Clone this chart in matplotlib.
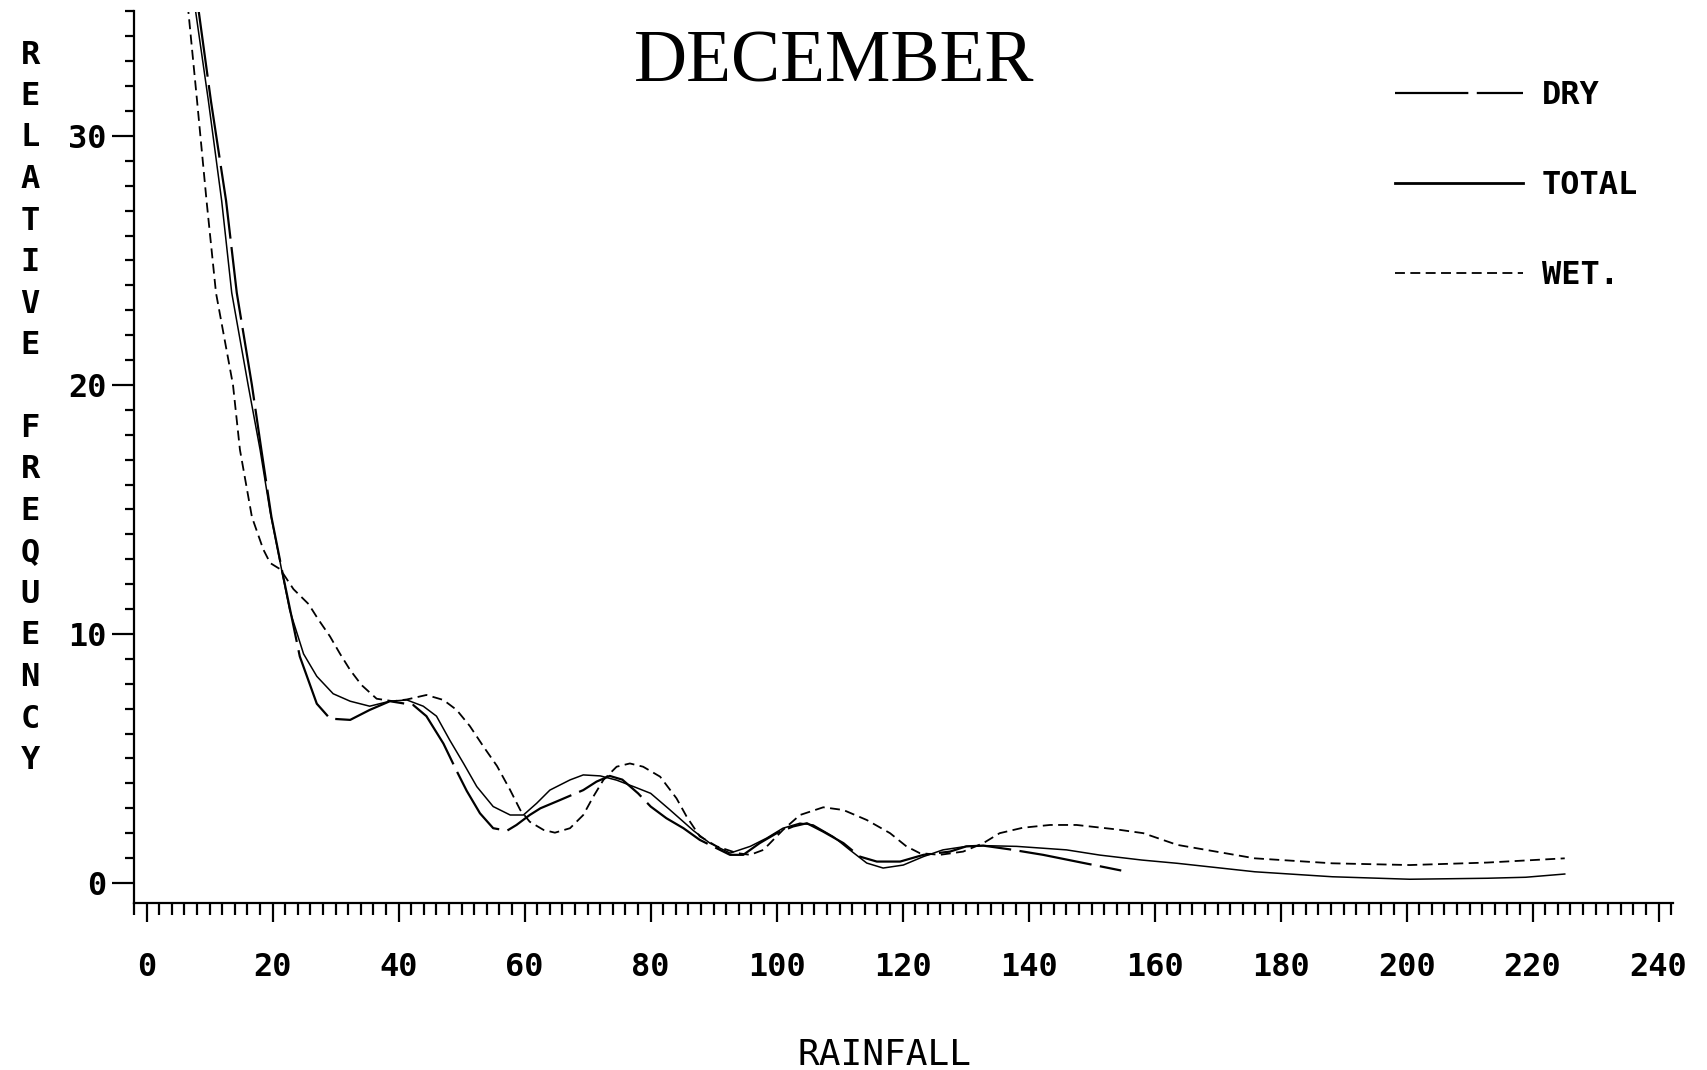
import matplotlib
matplotlib.use("Agg")
import matplotlib.pyplot as plt
from matplotlib.ticker import MultipleLocator

# values (rainfall, relative frequency)
wet_x = [6.5, 8.0, 9.5, 11.0, 13.7, 14.8, 16.7, 18.5, 19.6, 21.2,
         23.3, 25.7, 27.2, 29.1, 30.7, 32.3, 34.1, 36.5, 39.1, 41.3,
         44.4, 47.1, 49.2, 51.3, 53.4, 55.6, 57.7, 59.3, 60.8, 63.0,
         64.8, 67.2, 69.3, 70.9, 72.5, 74.6, 76.7, 78.8, 81.5, 84.1,
         85.7, 87.8, 90.5, 93.7, 95.8, 97.9, 101.0, 103.7, 107.4, 110.6,
         114.3, 118.0, 120.6, 122.7, 125.9, 129.6, 132.8, 135.4, 139.1, 143.4,
         147.6, 154.0, 158.2, 163.6, 175.9, 188.2, 200.5, 212.8, 225.1]
wet_y = [35.3, 31.4, 27.4, 23.7, 20.0, 17.4, 14.7, 13.4, 12.85, 12.6,
         11.8, 11.2, 10.6, 9.9, 9.2, 8.55, 7.95, 7.4, 7.3, 7.37,
         7.55, 7.35, 6.95, 6.3, 5.5, 4.7, 3.73, 2.93, 2.46, 2.13,
         2.02, 2.2, 2.73, 3.47, 4.14, 4.67, 4.8, 4.67, 4.27, 3.4,
         2.67, 1.87, 1.47, 1.2, 1.13, 1.33, 2.13, 2.73, 3.04, 2.93,
         2.53, 2.0, 1.47, 1.2, 1.13, 1.26, 1.6, 2.0, 2.22, 2.33,
         2.33, 2.15, 2.0, 1.53, 0.99, 0.79, 0.72, 0.82, 0.99]

total_x = [7.6, 9.8, 11.9, 13.5, 16.1, 18.0, 19.6, 21.4, 22.7, 24.9,
           27.0, 29.6, 32.3, 35.4, 38.6, 41.3, 43.9, 46.0, 48.1, 50.3,
           52.4, 55.0, 57.7, 59.8, 61.9, 64.0, 67.2, 69.3, 72.0, 74.6,
           77.5, 80.0, 83.0, 86.8, 89.4, 92.6, 95.8, 98.4, 101.0, 103.7,
           105.8, 109.0, 111.6, 114.3, 116.9, 120.1, 123.3, 126.4, 130.1, 132.8,
           138.1, 146.0, 151.3, 158.0, 163.6, 175.9, 188.2, 200.5, 212.8, 218.9,
           225.1]
total_y = [35.3, 31.4, 27.4, 23.7, 20.0, 17.4, 14.9, 12.6, 10.96, 9.2,
           8.3, 7.6, 7.3, 7.1, 7.3, 7.35, 7.1, 6.7, 5.74, 4.8,
           3.87, 3.07, 2.73, 2.73, 3.2, 3.73, 4.14, 4.34, 4.3, 4.13,
           3.85, 3.6, 2.95, 2.1, 1.6, 1.2, 1.47, 1.8, 2.2, 2.4,
           2.33, 1.86, 1.33, 0.8, 0.6, 0.72, 1.06, 1.33, 1.47, 1.5,
           1.47, 1.33, 1.12, 0.92, 0.79, 0.45, 0.25, 0.15, 0.19, 0.23,
           0.36]

dry_x = [8.1, 10.2, 12.6, 14.3, 16.7, 18.2, 19.8, 21.6, 24.3, 27.0,
         29.1, 32.3, 35.4, 38.6, 42.3, 44.4, 47.1, 49.2, 50.8, 52.9,
         55.0, 57.2, 58.7, 60.8, 62.5, 65.6, 69.3, 71.4, 73.5, 75.5,
         78.0, 80.0, 82.5, 85.2, 87.8, 92.6, 94.7, 97.3, 100.0, 102.6,
         104.8, 107.4, 110.6, 113.2, 115.9, 119.6, 123.3, 127.5, 130.1, 132.8,
         137.0, 142.3, 147.6, 154.7]
dry_y = [35.3, 31.4, 27.4, 23.7, 20.0, 17.4, 14.7, 12.4, 9.1, 7.2,
         6.6, 6.55, 6.95, 7.3, 7.15, 6.7, 5.6, 4.5, 3.7, 2.8,
         2.2, 2.1, 2.33, 2.73, 3.0, 3.33, 3.73, 4.07, 4.3, 4.15,
         3.6, 3.07, 2.6, 2.2, 1.73, 1.13, 1.13, 1.6, 2.0, 2.27,
         2.4, 2.06, 1.6, 1.06, 0.86, 0.86, 1.13, 1.26, 1.47, 1.5,
         1.35, 1.13, 0.86, 0.5]

x_ticks = list(range(0, 241, 20))
y_ticks = [0, 10, 20, 30]
title = "DECEMBER"
x_title = "RAINFALL"
y_title = "RELATIVE FREQUENCY"

mono = "DejaVu Sans Mono"
W, H = 1707, 1070

fig = plt.figure(figsize=(W / 100, H / 100), dpi=100)
ax = fig.add_axes([134.1 / W, 167.1 / H, 1539 / W, 891.4 / H])

ax.plot(dry_x, dry_y, color="black", lw=1.6, ls=(0, (33, 3.8)), label="DRY")
ax.plot(total_x, total_y, color="black", lw=1.1, ls="-", label="TOTAL")
ax.plot(wet_x, wet_y, color="black", lw=1.3, ls=(0, (5.5, 3)), label="WET.")

ax.set_xlim(-2, 242.3)
ax.set_ylim(-0.8, 35.0)

for s in ["top", "right"]:
    ax.spines[s].set_visible(False)
for s in ["left", "bottom"]:
    ax.spines[s].set_linewidth(1.6)

ax.set_xticks(x_ticks)
ax.set_yticks(y_ticks)
ax.xaxis.set_minor_locator(MultipleLocator(2))
ax.yaxis.set_minor_locator(MultipleLocator(1))
ax.tick_params(axis="x", which="major", direction="out", length=14, width=1.6, pad=21)
ax.tick_params(axis="x", which="minor", direction="out", length=8.5, width=1.6)
ax.tick_params(axis="y", which="major", direction="out", length=16, width=1.6, pad=4)
ax.tick_params(axis="y", which="minor", direction="out", length=6.5, width=1.6)
for lab in ax.get_xticklabels() + ax.get_yticklabels():
    lab.set_family(mono)
    lab.set_fontweight("bold")
    lab.set_fontsize(23)

leg = ax.legend(loc="upper left", bbox_to_anchor=(1395 / W, 1 - 80 / H),
                bbox_transform=fig.transFigure, frameon=False,
                prop={"family": mono, "weight": "bold", "size": 23},
                handlelength=4.0, handletextpad=0.6, labelspacing=1.85,
                borderpad=0, borderaxespad=0)
leg.get_lines()[1].set_linewidth(2.0)

fig.text(834 / W, 1 - 64 / H, title, ha="center", va="center",
         fontsize=53, family="Liberation Serif")

fig.text(884 / W, 1 - 1055 / H, x_title, ha="center", va="center",
         fontsize=26, family=mono)

# stacked upright letters of the y title
for i, ch in enumerate(y_title):
    if ch == " ":
        continue
    fig.text(30 / W, 1 - (55 + i * 41.5) / H, ch, ha="center", va="center",
             fontsize=23, family=mono, fontweight="bold")

fig.savefig("out.png", dpi=100, facecolor="white")
